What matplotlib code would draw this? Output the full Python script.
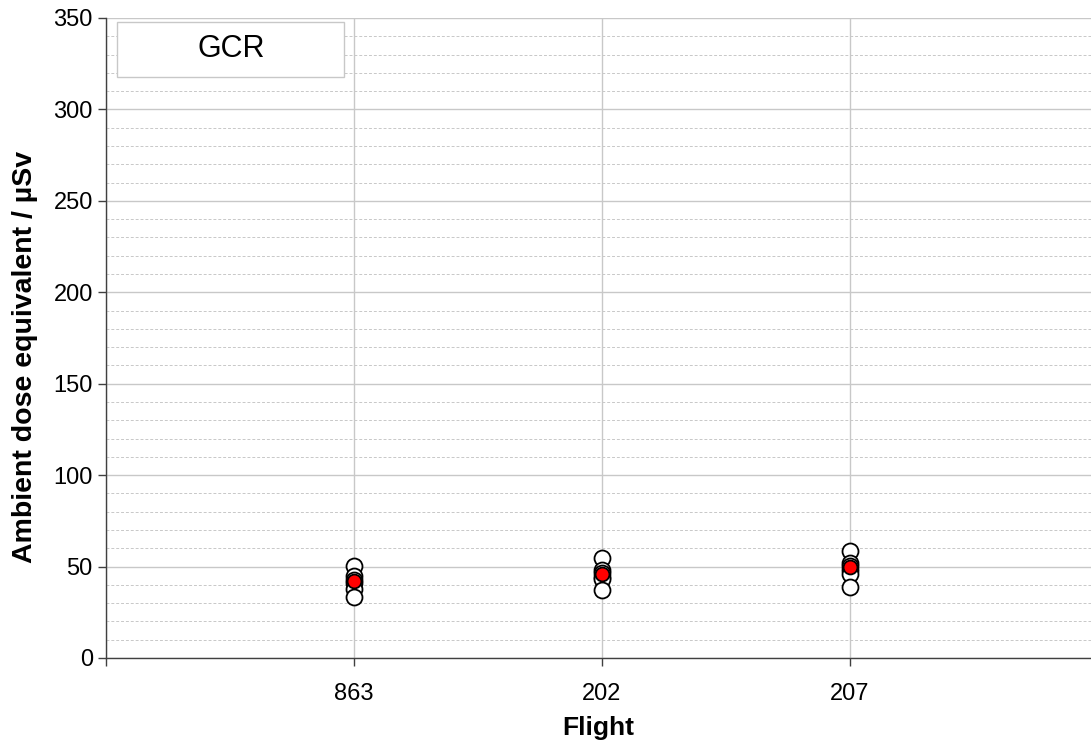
import matplotlib.pyplot as plt
from matplotlib.patches import Rectangle

plt.rcParams['font.family'] = ['Liberation Sans', 'DejaVu Sans']

flights = ['863', '202', '207']
# individual dose values per flight (µSv)
doses_863 = [50.5, 45, 42.5, 41, 38, 33.5]
doses_202 = [54.5, 48, 46.5, 44.5, 43, 37]
doses_207 = [58.5, 52, 50.5, 48, 46, 39]
# mean per flight
means = [42, 46, 50]

fig = plt.figure(figsize=(10.91, 7.46), dpi=100)
ax = fig.add_axes([106 / 1091, 88 / 746, 985 / 1091, 640 / 746])

for i, vals in enumerate([doses_863, doses_202, doses_207]):
    ax.plot([i + 1] * len(vals), vals, 'o', ms=11.5, mfc='white', mec='black',
            mew=1.3, zorder=3, clip_on=False)
ax.plot([1, 2, 3], means, 'o', ms=10, mfc='red', mec='black', mew=1.3, zorder=4)

ax.set_xlim(0, 985 / 248)
ax.set_ylim(0, 350)
ax.set_xticks([0, 1, 2, 3])
ax.set_xticklabels([''] + flights)
ax.set_yticks(range(0, 351, 50))
ax.set_yticks(range(0, 351, 10), minor=True)
ax.tick_params(axis='both', which='major', labelsize=17, length=6, width=1, color='#404040', direction='out')
ax.tick_params(axis='y', which='minor', length=0)
ax.tick_params(axis='x', pad=12)

ax.grid(True, which='major', color='#c8c8c8', lw=1)
ax.grid(True, which='minor', axis='y', color='#c8c8c8', lw=0.7, ls=(0, (3, 2)))
ax.set_axisbelow(True)

for s in ['top', 'right']:
    ax.spines[s].set_visible(False)
for s in ['left', 'bottom']:
    ax.spines[s].set_color('#404040')
    ax.spines[s].set_linewidth(1)

ax.set_xlabel('Flight', fontsize=19, fontweight='bold', labelpad=8)
ax.set_ylabel('Ambient dose equivalent / µSv', fontsize=20.5, fontweight='bold')
ax.yaxis.set_label_coords(-0.069, 0.47)

ax.add_patch(Rectangle((0.011, 0.908), 0.231, 0.086, transform=ax.transAxes,
                       facecolor='white', edgecolor='#c8c8c8', lw=1, zorder=5))
ax.text(0.127, 0.951, 'GCR', transform=ax.transAxes, ha='center', va='center',
        fontsize=22, zorder=6)

fig.savefig('out.png', dpi=100)
